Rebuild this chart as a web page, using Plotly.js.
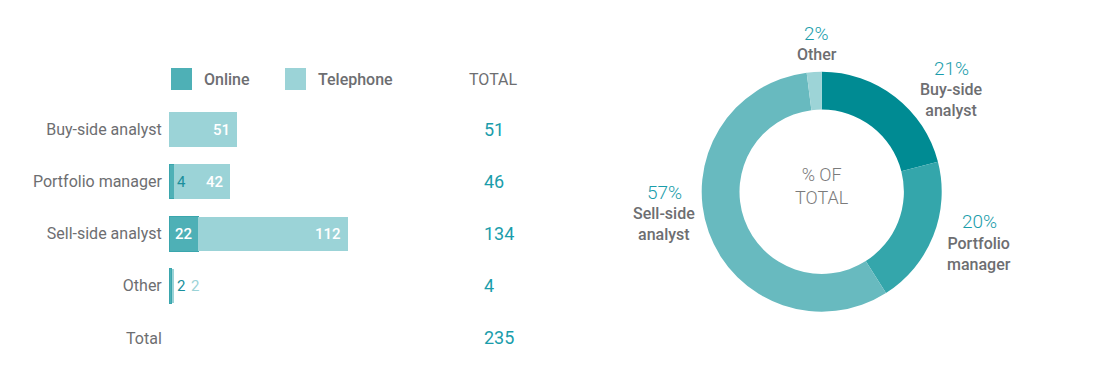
<!DOCTYPE html>
<html>
<head>
<meta charset="utf-8">
<script src="https://cdn.plot.ly/plotly-3.0.1.min.js"></script>
<style>
  html, body { margin: 0; padding: 0; background: #ffffff; }
  #chart { width: 1103px; height: 372px; }
</style>
</head>
<body>
<div id="chart"></div>
<script>
// ---- data ----
const categories = ['Buy-side analyst', 'Portfolio manager', 'Sell-side analyst', 'Other'];
const totalLabel = 'Total';
const onlineVals = [0, 4, 22, 2];
const telephoneVals = [51, 42, 112, 2];
const seriesNames = ['Online', 'Telephone'];
const totalHeader = 'TOTAL';
const pieLabels = ['Buy-side<br>analyst', 'Portfolio<br>manager', 'Sell-side<br>analyst', 'Other'];
const piePct = [21, 20, 57, 2];
const pieCenterText = '% OF<br>TOTAL';

// ---- styles ----
const W = 1103, H = 372;
const FONT = 'Roboto, "Open Sans", sans-serif';
const GRAY = '#6d6e71';
const TEAL_TEXT = '#1a9dab';
const ONLINE_COLOR = '#4eb0b6';
const TEL_COLOR = '#9bd3d7';
const PIE_COLORS = ['#008b93', '#34a6ab', '#68babf', '#9dd4d7'];
const px = (x) => x / W;
const py = (y) => 1 - y / H;

const allCats = categories.concat([totalLabel]);
const rowTotals = onlineVals.map((v, i) => v + telephoneVals[i]);
const grandTotal = rowTotals.reduce((a, b) => a + b, 0);

const traces = [
  {
    type: 'bar', orientation: 'h', name: seriesNames[0],
    y: categories, x: onlineVals,
    marker: { color: ONLINE_COLOR, line: { color: '#3aa6ad', width: 1 } },
    hoverinfo: 'skip', showlegend: false
  },
  {
    type: 'bar', orientation: 'h', name: seriesNames[1],
    y: categories, x: telephoneVals,
    marker: { color: TEL_COLOR, line: { width: 0 } },
    hoverinfo: 'skip', showlegend: false
  },
  {
    type: 'pie', labels: pieLabels, values: piePct,
    sort: false, direction: 'clockwise', rotation: 0,
    hole: 0.685, textinfo: 'none', hoverinfo: 'skip',
    marker: { colors: PIE_COLORS, line: { width: 0 } },
    domain: { x: [px(701.7), px(941.7)], y: [py(311.7), py(71.7)] },
    showlegend: false
  }
];

const annotations = [];
const barFont = { family: FONT, size: 15, weight: 500 };

// bar value labels
categories.forEach((c, i) => {
  const on = onlineVals[i], tel = telephoneVals[i];
  if (on > 0) {
    if (on >= 10) {
      annotations.push({ xref: 'x', yref: 'y', x: on / 2, y: c, text: String(on),
        showarrow: false, xanchor: 'center', yanchor: 'middle', font: Object.assign({}, barFont, { color: '#ffffff' }) });
    } else {
      annotations.push({ xref: 'x', yref: 'y', x: tel < 10 ? on + tel : on, y: c, text: String(on),
        showarrow: false, xanchor: 'left', yanchor: 'middle', xshift: 1, font: { family: FONT, size: 15, color: '#1a8f9c' } });
    }
  }
  if (tel > 0) {
    if (tel >= 10) {
      annotations.push({ xref: 'x', yref: 'y', x: on + tel, y: c, text: String(tel),
        showarrow: false, xanchor: 'right', yanchor: 'middle', xshift: -5, font: Object.assign({}, barFont, { color: '#ffffff' }) });
    } else {
      annotations.push({ xref: 'x', yref: 'y', x: on + tel, y: c, text: String(tel),
        showarrow: false, xanchor: 'left', yanchor: 'middle', xshift: 15, font: { family: FONT, size: 15, color: TEL_COLOR } });
    }
  }
});

// totals column
annotations.push({ xref: 'paper', yref: 'paper', x: px(493), y: py(79), text: totalHeader,
  showarrow: false, xanchor: 'center', yanchor: 'middle', font: { family: FONT, size: 16, color: GRAY } });
allCats.forEach((c, i) => {
  const v = i < rowTotals.length ? rowTotals[i] : grandTotal;
  annotations.push({ xref: 'paper', yref: 'y', x: px(482), y: c, text: String(v),
    showarrow: false, xanchor: 'left', yanchor: 'middle', font: { family: FONT, size: 18, color: TEAL_TEXT } });
});

// legend text
annotations.push({ xref: 'paper', yref: 'paper', x: px(202), y: py(79), text: seriesNames[0],
  showarrow: false, xanchor: 'left', yanchor: 'middle', font: { family: FONT, size: 16, weight: 500, color: GRAY } });
annotations.push({ xref: 'paper', yref: 'paper', x: px(316), y: py(79), text: seriesNames[1],
  showarrow: false, xanchor: 'left', yanchor: 'middle', font: { family: FONT, size: 16, weight: 500, color: GRAY } });

// pie labels
const piePos = [[951, 68], [979, 221.5], [664, 192.5], [816.5, 33]];
pieLabels.forEach((lab, i) => {
  const [x, y] = piePos[i];
  annotations.push({ xref: 'paper', yref: 'paper', x: px(x), y: py(y), text: piePct[i] + '%',
    showarrow: false, xanchor: 'center', yanchor: 'middle', font: { family: FONT, size: 19, weight: 300, color: TEAL_TEXT } });
  annotations.push({ xref: 'paper', yref: 'paper', x: px(x), y: py(y + 10), text: lab,
    showarrow: false, xanchor: 'center', yanchor: 'top', align: 'center',
    font: { family: FONT, size: 16, weight: 500, color: GRAY } });
});
annotations.push({ xref: 'paper', yref: 'paper', x: px(821.5), y: py(186), text: pieCenterText,
  showarrow: false, xanchor: 'center', yanchor: 'middle', align: 'center',
  font: { family: FONT, size: 18, weight: 300, color: '#7b7b7b' } });

const layout = {
  width: W, height: H,
  margin: { l: 0, r: 0, t: 0, b: 0, pad: 0 },
  paper_bgcolor: '#ffffff', plot_bgcolor: 'rgba(0,0,0,0)',
  barmode: 'stack', bargap: 0.338,
  showlegend: false,
  font: { family: FONT, color: GRAY },
  xaxis: {
    domain: [px(169), px(169 + 200 * 1.336)], range: [0, 200],
    visible: false, showgrid: false, zeroline: false, fixedrange: true
  },
  yaxis: {
    domain: [py(364), py(103.5)],
    type: 'category', categoryorder: 'array', categoryarray: allCats,
    range: [allCats.length - 0.5, -0.5],
    showgrid: false, zeroline: false, showline: false,
    ticks: 'outside', ticklen: 3, tickcolor: 'rgba(0,0,0,0)',
    tickfont: { family: FONT, size: 16, color: GRAY },
    fixedrange: true
  },
  shapes: [
    { type: 'rect', xref: 'paper', yref: 'paper', x0: px(171), x1: px(192), y0: py(90), y1: py(68),
      fillcolor: ONLINE_COLOR, line: { width: 0 } },
    { type: 'rect', xref: 'paper', yref: 'paper', x0: px(285), x1: px(306), y0: py(90), y1: py(68),
      fillcolor: TEL_COLOR, line: { width: 0 } }
  ],
  annotations: annotations
};

Plotly.newPlot('chart', traces, layout, { displayModeBar: false, staticPlot: true });
</script>
</body>
</html>
